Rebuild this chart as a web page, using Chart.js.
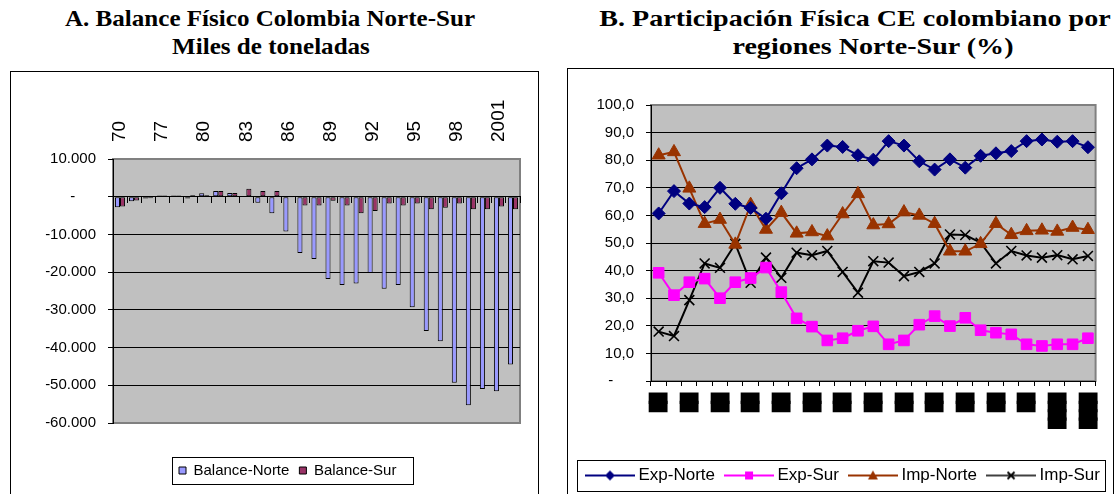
<!DOCTYPE html>
<html>
<head>
<meta charset="utf-8">
<script src="https://cdn.jsdelivr.net/npm/chart.js@4"></script>
<style>
  body { margin: 0; width: 1117px; height: 494px; overflow: hidden; background: #fff; position: relative; }
  .title {
    position: absolute;
    font-family: "Liberation Serif", "Times New Roman", serif;
    font-weight: bold;
    font-size: 23px;
    line-height: 1;
    white-space: nowrap;
  }
  .ta { transform: translateX(-50%) scaleX(1.09); }
  .tb { transform: translateX(-50%) scaleX(1.22); }
  .box { position: absolute; border: 1px solid #000; }
  canvas { position: absolute; }
</style>
</head>
<body>
<div class="title ta" style="left:270px;top:7px">A. Balance Físico Colombia Norte-Sur</div>
<div class="title ta" style="left:271px;top:35px">Miles de toneladas</div>
<div class="title tb" style="left:855px;top:7px">B. Participación Física CE colombiano por</div>
<div class="title tb" style="left:873px;top:35px">regiones Norte-Sur (%)</div>

<div class="box" style="left:10px;top:71px;width:527px;height:440px"></div>
<canvas id="balanceChart" width="526" height="420" style="left:11px;top:72px;width:526px;height:420px"></canvas>

<div class="box" style="left:567px;top:68px;width:545px;height:440px"></div>
<canvas id="shareChart" width="545" height="426" style="left:568px;top:69px;width:545px;height:426px"></canvas>

<script>
Chart.defaults.font.family = "Arial, 'Liberation Sans', sans-serif";
Chart.defaults.color = "#000";

// Years 1970-2002 (series starts 70, then 75 onward)
const YEARS = [
  "70", "75", "76", "77", "78", "79", "80", "81", "82", "83",
  "84", "85", "86", "87", "88", "89", "90", "91", "92", "93",
  "94", "95", "96", "97", "98", "99", "2000", "2001", "2002",
];

// A. Balance físico, miles de toneladas
const BALANCE_NORTE = [
  -2800, -1200, -500, 300, 300, -500, 900, 1500, 1000, 0,
  -1600, -4400, -9200, -14900, -16500, -21800, -23400, -23000, -20200, -24400,
  -23400, -29300, -35600, -38300, -49300, -55300, -51000, -51600, -44500,
];
const BALANCE_SUR = [
  -2600, -1000, -400, 300, 300, 400, 400, 1500, 1000, 2100,
  1500, 1500, -200, -2300, -2300, -1100, -2300, -4400, -3800, -1800,
  -2300, -1800, -3300, -2900, -1800, -3300, -3300, -2600, -3300,
];

// B. Participación física (%)
const EXP_NORTE = [
  60.7, 68.8, 64.3, 63.0, 70.0, 64.2, 62.7, 58.8, 68.0, 77.1,
  80.3, 85.3, 84.8, 81.8, 80.2, 86.9, 85.3, 79.6, 76.6, 80.3,
  77.3, 81.6, 82.5, 83.3, 86.9, 87.5, 86.7, 86.9, 84.7,
];
const EXP_SUR = [
  39.2, 31.1, 35.8, 37.1, 30.0, 35.8, 37.3, 41.1, 32.2, 22.7,
  19.7, 14.7, 15.5, 18.2, 19.8, 13.3, 14.7, 20.4, 23.5, 19.9,
  22.9, 18.4, 17.5, 16.9, 13.3, 12.7, 13.3, 13.3, 15.5,
];
const IMP_NORTE = [
  81.8, 83.0, 69.8, 57.0, 58.5, 49.5, 63.9, 54.9, 61.0, 53.5,
  54.0, 52.5, 60.5, 67.8, 56.5, 56.9, 61.2, 60.0, 57.0, 47.0,
  47.0, 49.7, 57.0, 53.0, 54.4, 54.6, 54.2, 55.6, 54.8,
];
const IMP_SUR = [
  17.9, 16.3, 29.3, 42.6, 41.0, 49.7, 35.6, 44.7, 37.4, 46.5,
  45.6, 47.1, 39.5, 32.0, 43.4, 42.9, 38.0, 39.5, 42.6, 53.1,
  52.9, 50.1, 42.6, 47.1, 45.5, 44.7, 45.6, 44.1, 45.3,
];

const PLOT_GRAY = "#c0c0c0";
const FRAME_GRAY = "#808080";

// zero shows as a dash, like the spreadsheet accounting format
const fmtThousands = (v) => {
  if (v === 0) return "-     ";
  const s = String(Math.abs(v)).replace(/\B(?=(\d{3})+(?!\d))/g, ".");
  return (v < 0 ? "-" : "") + s;
};
const fmtPercent = (v) => (v === 0 ? "-     " : v.toFixed(1).replace(".", ","));

// Gray plot background with a gray frame
const plotFrame = {
  id: "plotFrame",
  beforeDraw(chart) {
    const { ctx, chartArea: a } = chart;
    ctx.save();
    ctx.fillStyle = PLOT_GRAY;
    ctx.fillRect(a.left, a.top, a.width, a.height);
    ctx.strokeStyle = FRAME_GRAY;
    ctx.lineWidth = 2;
    ctx.strokeRect(a.left, a.top, a.width, a.height);
    ctx.restore();
  },
};

// Move the legend row to a start x and draw a box round it
const legendFrame = {
  id: "legendFrame",
  afterLayout(chart, args, opts) {
    const lg = chart.legend;
    const w = lg.width;
    lg.left = opts.start - lg.options.labels.padding;
    lg.right = lg.left + w;
  },
  afterDraw(chart, args, opts) {
    const boxes = chart.legend.legendHitBoxes;
    if (!boxes.length) return;
    const first = boxes[0];
    const last = boxes[boxes.length - 1];
    const x1 = Math.round(first.left - opts.padLeft) + 0.5;
    const x2 = Math.round(last.left + last.width + opts.padRight) + 0.5;
    const y1 = Math.round(first.top - opts.padY) + 0.5;
    const y2 = Math.round(first.top + first.height + opts.padY) + 0.5;
    const { ctx } = chart;
    ctx.save();
    ctx.strokeStyle = "#000";
    ctx.lineWidth = 1;
    ctx.strokeRect(x1, y1, x2 - x1, y2 - y1);
    ctx.restore();
  },
};

// ---------- A. Balance físico ----------
const YEAR_FONT = { size: 19, lineHeight: 1.2 };

new Chart(document.getElementById("balanceChart"), {
  type: "bar",
  data: {
    labels: YEARS,
    datasets: [
      {
        label: "Balance-Norte",
        data: BALANCE_NORTE,
        backgroundColor: "#9999ff",
        borderColor: "#000",
        borderWidth: 1,
        borderSkipped: false,
        categoryPercentage: 0.72,
        barPercentage: 1,
      },
      {
        label: "Balance-Sur",
        data: BALANCE_SUR,
        backgroundColor: "#993366",
        borderColor: "#000",
        borderWidth: 1,
        borderSkipped: false,
        categoryPercentage: 0.72,
        barPercentage: 1,
      },
    ],
  },
  options: {
    responsive: false,
    animation: false,
    layout: { padding: { left: 0, top: 0, right: 17, bottom: 4 } },
    scales: {
      x: {
        type: "category",
        position: "top",
        offset: true,
        grid: { display: false },
        border: { display: false },
        ticks: {
          autoSkip: false,
          minRotation: 90,
          maxRotation: 90,
          padding: 9,
          // top labels rotated get pushed one line to the left, put them back
          labelOffset: YEAR_FONT.size * YEAR_FONT.lineHeight,
          font: YEAR_FONT,
          callback: (v, i) => (i % 3 === 0 ? YEARS[i] : ""),
        },
        afterFit: (s) => {
          s.height = 87;
        },
      },
      // category axis crossing at zero, only its tick marks
      xz: {
        type: "category",
        axis: "x",
        position: { y: 0 },
        offset: true,
        grid: {
          drawOnChartArea: false,
          drawTicks: true,
          tickLength: 6,
          offset: true,
          color: "#000",
        },
        border: { color: "#000" },
        ticks: { display: false },
      },
      // empty band between plot and legend
      xg: {
        type: "category",
        axis: "x",
        position: "bottom",
        grid: { display: false },
        border: { display: false },
        ticks: { display: false },
        afterFit: (s) => {
          s.height = 30;
        },
      },
      y: {
        min: -60000,
        max: 10000,
        ticks: { stepSize: 10000, padding: 12, font: { size: 15 }, callback: fmtThousands },
        grid: {
          color: (c) =>
            c.tick && (c.tick.value === 10000 || c.tick.value === -60000) ? FRAME_GRAY : "#000",
          tickColor: "#000",
          tickLength: 5,
        },
        border: { color: "#000" },
        afterFit: (s) => {
          s.width = 102;
        },
      },
    },
    plugins: {
      tooltip: { enabled: false },
      legend: {
        position: "bottom",
        align: "start",
        labels: { boxWidth: 7, boxHeight: 7, padding: 10, font: { size: 15 }, color: "#000" },
      },
      legendFrame: { start: 168, padLeft: 7, padRight: 17, padY: 6 },
    },
  },
  plugins: [plotFrame, legendFrame],
});

// ---------- B. Participación física ----------
const makeIcon = (color, lineWidth, drawMarker) => {
  const c = document.createElement("canvas");
  c.width = 50;
  c.height = 16;
  const g = c.getContext("2d");
  g.strokeStyle = color;
  g.fillStyle = color;
  g.lineWidth = lineWidth;
  g.beginPath();
  g.moveTo(0, 8);
  g.lineTo(50, 8);
  g.stroke();
  drawMarker(g);
  return c;
};

const LEGEND_ICONS = [
  makeIcon("#000080", 2, (g) => {
    g.beginPath();
    g.moveTo(25, 3);
    g.lineTo(30, 8);
    g.lineTo(25, 13);
    g.lineTo(20, 8);
    g.closePath();
    g.fill();
  }),
  makeIcon("#ff00ff", 2, (g) => {
    g.fillRect(21, 4, 8, 8);
  }),
  makeIcon("#993300", 2, (g) => {
    g.beginPath();
    g.moveTo(25, 3);
    g.lineTo(30, 12);
    g.lineTo(20, 12);
    g.closePath();
    g.fill();
  }),
  makeIcon("#000", 1.5, (g) => {
    g.lineWidth = 1.8;
    g.beginPath();
    g.moveTo(21.5, 4.5);
    g.lineTo(28.5, 11.5);
    g.moveTo(28.5, 4.5);
    g.lineTo(21.5, 11.5);
    g.stroke();
  }),
];

const lineSeries = (label, data, color, pointStyle, radius, extra = {}) => ({
  label,
  data,
  borderColor: color,
  backgroundColor: color,
  borderWidth: 2,
  pointStyle,
  pointRadius: radius,
  pointBackgroundColor: color,
  pointBorderColor: color,
  pointBorderWidth: 1,
  tension: 0,
  ...extra,
});

new Chart(document.getElementById("shareChart"), {
  type: "line",
  data: {
    labels: YEARS,
    datasets: [
      lineSeries("Exp-Norte", EXP_NORTE, "#000080", "rectRot", 6.5),
      lineSeries("Exp-Sur", EXP_SUR, "#ff00ff", "rect", 7.5),
      lineSeries("Imp-Norte", IMP_NORTE, "#993300", "triangle", 7.5),
      lineSeries("Imp-Sur", IMP_SUR, "#000", "crossRot", 7, { pointBorderWidth: 1.6 }),
    ],
  },
  options: {
    responsive: false,
    animation: false,
    layout: { padding: { left: 0, top: 36, right: 0, bottom: 1 } },
    scales: {
      x: {
        offset: true,
        grid: {
          drawOnChartArea: false,
          drawTicks: true,
          tickLength: 5,
          offset: true,
          color: "#000",
        },
        border: { color: "#000" },
        ticks: {
          autoSkip: false,
          minRotation: 90,
          maxRotation: 90,
          padding: 8,
          font: { family: "'Liberation Mono', 'DejaVu Sans Mono', monospace", size: 14 },
          // stroke closes the gaps between the block glyphs
          textStrokeColor: "#000",
          textStrokeWidth: 3,
          // the year labels come out as solid blocks in the source
          callback: (v, i) => (i % 2 === 0 ? YEARS[i].replace(/./g, "\u2588") : ""),
        },
        afterFit: (s) => {
          s.height = 72;
        },
      },
      y: {
        min: 0,
        max: 100,
        ticks: { stepSize: 10, padding: 12, font: { size: 15 }, callback: fmtPercent },
        grid: {
          color: (c) => (c.tick && c.tick.value === 100 ? FRAME_GRAY : "#000"),
          tickColor: "#000",
          tickLength: 5,
        },
        border: { color: "#000" },
        afterFit: (s) => {
          s.width = 83;
        },
      },
      // spacer on the right so the legend row has full width
      yr: {
        type: "linear",
        axis: "y",
        position: "right",
        grid: { display: false },
        border: { display: false },
        ticks: { display: false },
        afterFit: (s) => {
          s.width = 16;
        },
      },
    },
    plugins: {
      tooltip: { enabled: false },
      legend: {
        position: "bottom",
        align: "start",
        labels: {
          usePointStyle: true,
          pointStyleWidth: 40,
          padding: 14,
          font: { size: 17 },
          color: "#000",
          generateLabels: (chart) =>
            Chart.defaults.plugins.legend.labels
              .generateLabels(chart)
              .map((item, i) => ({ ...item, pointStyle: LEGEND_ICONS[i] })),
        },
      },
      legendFrame: { start: 22, padLeft: 13, padRight: 5, padY: 7 },
    },
  },
  plugins: [plotFrame, legendFrame],
});
</script>
</body>
</html>
